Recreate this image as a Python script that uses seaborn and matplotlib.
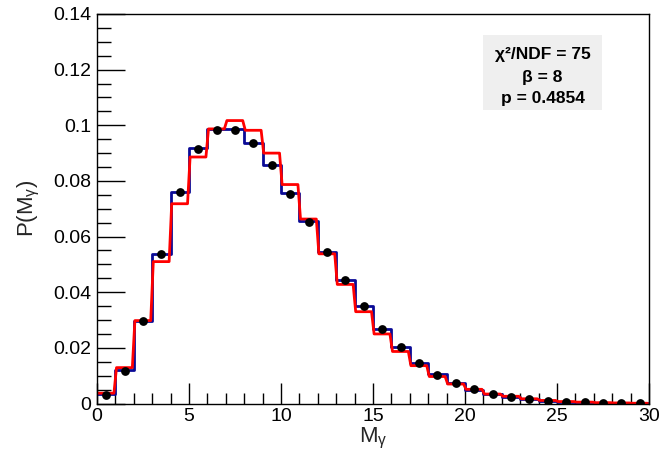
import numpy as np
import pandas as pd
import matplotlib
matplotlib.use("Agg")
import matplotlib.pyplot as plt
from matplotlib.ticker import MultipleLocator
import seaborn as sns

# ---- data ----
bin_edges = list(range(0, 31))
bin_centers = [e + 0.5 for e in range(0, 30)]

data_points = [0.0030, 0.0118, 0.0297, 0.0538, 0.0759, 0.0916, 0.0984, 0.0982, 0.0935, 0.0856,
               0.0752, 0.0654, 0.0546, 0.0444, 0.0349, 0.0268, 0.0203, 0.0145, 0.0104, 0.0075,
               0.0051, 0.0034, 0.0025, 0.0016, 0.0010, 0.0007, 0.0004, 0.0003, 0.0002, 0.0001]

blue_hist = [0.0033, 0.0120, 0.0296, 0.0537, 0.0759, 0.0917, 0.0985, 0.0985, 0.0937, 0.0857,
             0.0755, 0.0657, 0.0544, 0.0444, 0.0349, 0.0268, 0.0203, 0.0145, 0.0106, 0.0075,
             0.0049, 0.0034, 0.0023, 0.0016, 0.0010, 0.0007, 0.0005, 0.0003, 0.0002, 0.0001]

red_model = [0.0037, 0.0129, 0.0298, 0.0510, 0.0718, 0.0886, 0.0987, 0.1017, 0.0982, 0.0900,
             0.0787, 0.0663, 0.0538, 0.0428, 0.0330, 0.0250, 0.0187, 0.0136, 0.0097, 0.0070,
             0.0051, 0.0034, 0.0026, 0.0017, 0.0011, 0.0007, 0.0005, 0.0003, 0.0002, 0.0001]

stats_lines = ["χ²/NDF = 75", "β = 8", "p = 0.4854"]
x_label = "M$_{\\mathregular{γ}}$"
y_label = "P(M$_{\\mathregular{γ}}$)"

# ---- style ----
sns.set_theme(style="white")
plt.rcParams['font.family'] = ['Liberation Sans', 'DejaVu Sans']
plt.rcParams['mathtext.fontset'] = 'custom'
plt.rcParams['mathtext.rm'] = 'Liberation Sans'
plt.rcParams['mathtext.it'] = 'Liberation Sans:italic'
plt.rcParams['mathtext.bf'] = 'Liberation Sans:bold'

fig = plt.figure(figsize=(6.59, 4.57), dpi=100)
ax = fig.add_axes([97 / 659, 1 - 403.5 / 457, 552 / 659, 389.5 / 457])

# blue histogram
df_b = pd.DataFrame({"x": bin_centers, "w": blue_hist})
sns.histplot(data=df_b, x="x", weights="w", bins=bin_edges, element="step",
             fill=False, color="#0a0a96", linewidth=2.0, ax=ax)

# red model (step with slightly slanted risers)
rx, ry = [], []
for lo, v in zip(bin_edges[:-1], red_model):
    rx += [lo + 0.06, lo + 0.92]
    ry += [v, v]
rx[0] = 0.0
df_r = pd.DataFrame({"x": rx, "y": ry})
sns.lineplot(data=df_r, x="x", y="y", color="#ff0000", linewidth=2.0, sort=False,
             estimator=None, ax=ax)

# data points
df_p = pd.DataFrame({"x": bin_centers, "y": data_points})
sns.scatterplot(data=df_p, x="x", y="y", color="black", s=40, edgecolor="black",
                linewidth=0, zorder=5, ax=ax)

ax.set_xlim(0, 30)
ax.set_ylim(0, 0.14)
ax.xaxis.set_major_locator(MultipleLocator(5))
ax.xaxis.set_minor_locator(MultipleLocator(1))
ax.yaxis.set_major_locator(MultipleLocator(0.02))
ax.yaxis.set_minor_locator(MultipleLocator(0.005))
ax.set_yticks([0, 0.02, 0.04, 0.06, 0.08, 0.1, 0.12, 0.14])
ax.set_yticklabels(["0", "0.02", "0.04", "0.06", "0.08", "0.1", "0.12", "0.14"])
ax.tick_params(axis='both', which='both', direction='in', top=False, right=False,
               bottom=True, left=True, labelsize=14, colors='black', width=1)
ax.tick_params(axis='y', which='major', length=20, pad=4)
ax.tick_params(axis='y', which='minor', length=10)
ax.tick_params(axis='x', which='major', length=15, pad=3)
ax.tick_params(axis='x', which='minor', length=8)
for s in ax.spines.values():
    s.set_color('black')
    s.set_linewidth(1.0)

ax.set_xlabel(x_label, fontsize=16, labelpad=1)
ax.set_ylabel(y_label, fontsize=16, labelpad=8)

# stats box
ax.add_patch(plt.Rectangle((0.699, 0.753), 0.216, 0.193, transform=ax.transAxes,
                           facecolor="#efefef", edgecolor="none", zorder=1))
for txt, yy in zip(stats_lines, [0.895, 0.837, 0.784]):
    ax.text(0.807, yy, txt, transform=ax.transAxes, ha='center', va='center',
            fontsize=12.5, fontweight='bold', color='black', zorder=6)

fig.savefig("out.png", dpi=100)
